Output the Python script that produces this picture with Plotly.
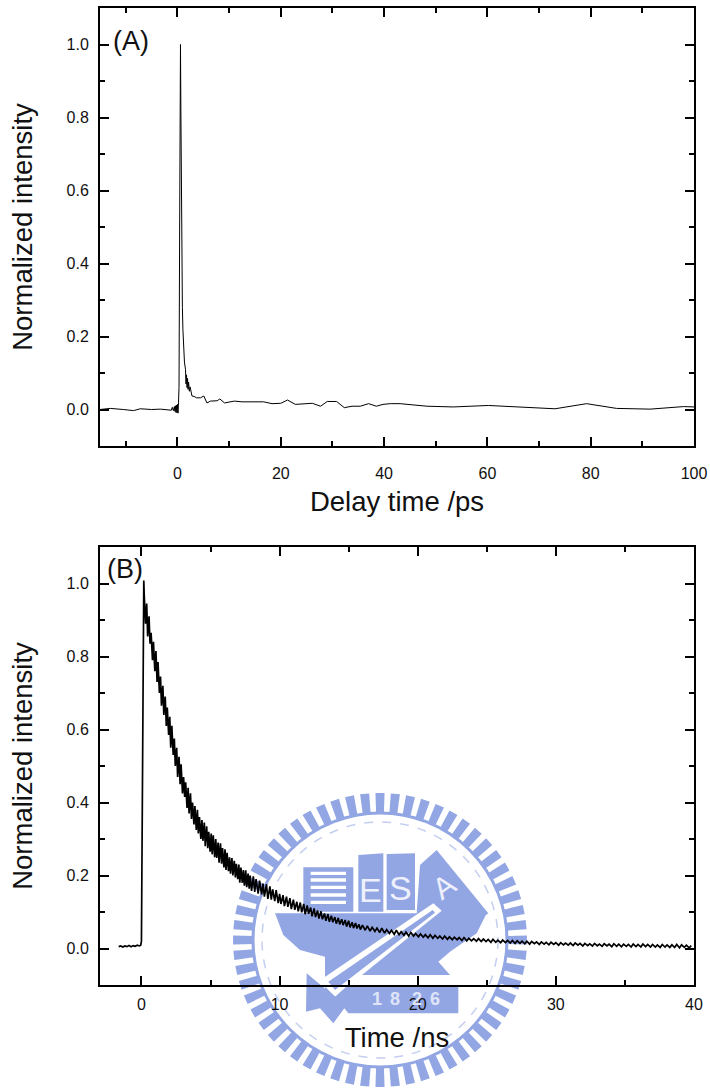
import numpy as np
import plotly.graph_objects as go
from plotly.subplots import make_subplots

W, H = 710, 1088
FONT = "Liberation Sans, Arial, sans-serif"

# Panel A: delay time (ps) and normalized intensity
a_time = [-15, -13, -10.5, -8.5, -7.2, -5, -3.3, -1.2, -1.0, -0.8, -0.6, -0.5, -0.4, -0.3, -0.2, -0.1, 0.0, 0.1, 0.2, 0.3,
          0.42, 0.5, 0.58, 0.66, 0.75, 0.85, 0.95, 1.05, 1.2, 1.35, 1.55, 1.65, 1.75, 1.85, 1.95, 2.05, 2.15, 2.3, 2.45, 2.6,
          2.8, 3.2, 3.7, 4.45, 5.1, 5.7, 6.4, 7.7, 8.2, 9.1, 10, 11, 12.5, 16.7, 18.3, 20, 21.3, 22.8, 26.1, 27.7, 29,
          30.8, 32.3, 33.8, 35.4, 37, 38.5, 39.8, 41.2, 43.1, 48.3, 53.4, 60.2, 66.9, 73.1, 79.2, 85, 91.5, 98, 100]
a_intensity = [0.0, 0.003, 0.0, -0.003, 0.002, 0.0, 0.001, -0.002, 0.006, -0.003, 0.008, -0.005, 0.01, -0.008, 0.012, -0.009, 0.014, -0.01, 0.02, 0.06,
               0.5, 0.92, 1.0, 0.82, 0.58, 0.4, 0.28, 0.22, 0.17, 0.13, 0.11, 0.07, 0.095, 0.06, 0.085, 0.055, 0.075, 0.05, 0.062, 0.045,
               0.037, 0.036, 0.032, 0.032, 0.037, 0.018, 0.023, 0.024, 0.029, 0.018, 0.02, 0.023, 0.021, 0.021, 0.016, 0.017, 0.026, 0.014, 0.017, 0.009, 0.022,
               0.022, 0.005, 0.009, 0.009, 0.016, 0.009, 0.014, 0.016, 0.016, 0.009, 0.007, 0.011, 0.006, 0.002, 0.016, 0.003, 0.001, 0.008, 0.007]

# Panel B: time (ns) and normalized intensity, read as a noisy trace
b_time = [-1.65, -1.5, -1.35, -1.2, -1.05, -0.9, -0.75, -0.6, -0.45, -0.3, -0.15, -0.05, 0.0, 0.03, 0.06, 0.1, 0.14, 0.17, 0.2, 0.24,
          0.3, 0.38, 0.45, 0.55, 0.62, 0.7, 0.8, 0.87, 0.97, 1.05, 1.13, 1.2, 1.3, 1.38, 1.45, 1.55, 1.62, 1.72, 1.8, 1.87, 1.97, 2.05, 2.12, 2.2, 2.3, 2.38, 2.45, 2.55,
          2.62, 2.72, 2.8, 2.87, 2.97, 3.05, 3.13, 3.2, 3.3, 3.38, 3.45, 3.55, 3.62, 3.7, 3.8, 3.87, 3.97, 4.05, 4.12, 4.2, 4.3, 4.38, 4.45, 4.55, 4.62, 4.72, 4.8, 4.87, 4.97, 5.05,
          5.12, 5.2, 5.3, 5.38, 5.45, 5.55, 5.62, 5.72, 5.8, 5.87, 5.97, 6.05, 6.12, 6.2, 6.3, 6.38, 6.45, 6.55, 6.62, 6.72, 6.8, 6.87, 6.97, 7.05, 7.12, 7.2, 7.3, 7.38, 7.45, 7.55, 7.62, 7.72, 7.8, 7.87, 7.97,
          8.1, 8.2, 8.3, 8.45, 8.55, 8.7, 8.8, 8.9, 9.05, 9.15, 9.3, 9.4, 9.5, 9.65, 9.75, 9.9, 10.0, 10.1, 10.25, 10.35, 10.5, 10.6, 10.75, 10.85, 11.0, 11.1, 11.25, 11.35, 11.5, 11.6,
          11.75, 11.85, 12.0, 12.1, 12.25, 12.35, 12.5, 12.6, 12.75, 12.85, 13.0, 13.1, 13.25, 13.35, 13.5, 13.6, 13.75, 13.85, 14.0, 14.1, 14.25, 14.35, 14.5, 14.6, 14.75, 14.85, 15.0, 15.1, 15.25, 15.35, 15.5, 15.6, 15.75, 15.85, 16.0,
          16.2, 16.35, 16.55, 16.7, 16.9, 17.05, 17.25, 17.4, 17.6, 17.75, 17.95, 18.1, 18.3, 18.45, 18.65, 18.8, 19.0, 19.15, 19.35, 19.5, 19.7, 19.85, 20.05, 20.2, 20.4, 20.55, 20.75, 20.9, 21.1, 21.25,
          21.45, 21.6, 21.8, 21.95, 22.15, 22.3, 22.5, 22.65, 22.85, 23.0, 23.2, 23.35, 23.55, 23.7, 23.9, 24.05, 24.25, 24.4, 24.6, 24.75, 24.95, 25.1, 25.3, 25.45, 25.65, 25.8, 26.0, 26.15, 26.35, 26.5,
          26.7, 26.85, 27.05, 27.2, 27.4, 27.55, 27.75, 27.9, 28.1, 28.25, 28.45, 28.6, 28.8, 28.95, 29.15, 29.3, 29.5, 29.65, 29.85, 30.0, 30.2, 30.35, 30.55, 30.7, 30.9, 31.05, 31.25, 31.4, 31.6, 31.75,
          31.95, 32.1, 32.3, 32.45, 32.65, 32.8, 33.0, 33.15, 33.35, 33.5, 33.7, 33.85, 34.05, 34.2, 34.4, 34.55, 34.75, 34.9, 35.1, 35.25, 35.45, 35.6, 35.8, 35.95, 36.15, 36.3, 36.5, 36.65, 36.85, 37.0,
          37.2, 37.35, 37.55, 37.7, 37.9, 38.05, 38.25, 38.4, 38.6, 38.75, 38.95, 39.1, 39.3, 39.45, 39.65, 39.8, 40.0]
b_intensity = [0.005, 0.007, 0.004, 0.007, 0.005, 0.008, 0.005, 0.008, 0.006, 0.009, 0.007, 0.009, 0.02, 0.2, 0.55, 0.85, 0.97, 1.008, 0.97, 0.94,
               0.89, 0.945, 0.855, 0.91, 0.835, 0.865, 0.79, 0.84, 0.76, 0.815, 0.73, 0.785, 0.7, 0.745, 0.665, 0.72, 0.64, 0.69, 0.61, 0.66, 0.585, 0.635, 0.55, 0.61, 0.53, 0.575, 0.5, 0.55,
               0.47, 0.525, 0.45, 0.505, 0.425, 0.47, 0.415, 0.455, 0.385, 0.44, 0.37, 0.425, 0.355, 0.4, 0.34, 0.39, 0.325, 0.38, 0.315, 0.36, 0.3, 0.352, 0.295, 0.345, 0.28, 0.335, 0.275, 0.32, 0.265, 0.315,
               0.258, 0.31, 0.25, 0.3, 0.248, 0.29, 0.235, 0.288, 0.232, 0.275, 0.222, 0.272, 0.215, 0.262, 0.212, 0.25, 0.205, 0.248, 0.2, 0.24, 0.195, 0.232, 0.19, 0.23, 0.18, 0.222, 0.18, 0.215, 0.172, 0.214, 0.168, 0.205, 0.164, 0.2, 0.158,
               0.198, 0.155, 0.19, 0.15, 0.186, 0.148, 0.178, 0.142, 0.176, 0.136, 0.17, 0.134, 0.162, 0.13, 0.16, 0.124, 0.15, 0.122, 0.146, 0.116, 0.142, 0.114, 0.138, 0.108, 0.134, 0.106, 0.128, 0.102, 0.126,
               0.099, 0.122, 0.094, 0.118, 0.095, 0.112, 0.088, 0.11, 0.086, 0.104, 0.082, 0.102, 0.08, 0.096, 0.076, 0.094, 0.073, 0.09, 0.072, 0.086, 0.068, 0.084, 0.066, 0.08, 0.064, 0.078, 0.06, 0.076, 0.058, 0.072, 0.056, 0.07, 0.055, 0.066, 0.052,
               0.064, 0.05, 0.062, 0.048, 0.058, 0.047, 0.056, 0.044, 0.056, 0.042, 0.052, 0.041, 0.05, 0.039, 0.05, 0.038, 0.046, 0.036, 0.045, 0.034, 0.044, 0.034, 0.041, 0.032, 0.04, 0.031, 0.038, 0.029, 0.038, 0.028,
               0.036, 0.028, 0.034, 0.026, 0.034, 0.025, 0.032, 0.024, 0.031, 0.024, 0.03, 0.022, 0.03, 0.021, 0.028, 0.021, 0.027, 0.02, 0.027, 0.019, 0.026, 0.019, 0.025, 0.017, 0.025, 0.017, 0.023, 0.016, 0.023, 0.016,
               0.022, 0.015, 0.022, 0.014, 0.021, 0.014, 0.02, 0.013, 0.02, 0.012, 0.019, 0.013, 0.018, 0.011, 0.018, 0.012, 0.017, 0.01, 0.017, 0.011, 0.016, 0.009, 0.016, 0.01, 0.015, 0.009, 0.015, 0.008, 0.015, 0.009,
               0.014, 0.007, 0.014, 0.008, 0.013, 0.007, 0.014, 0.007, 0.012, 0.006, 0.013, 0.007, 0.012, 0.005, 0.013, 0.006, 0.012, 0.005, 0.012, 0.006, 0.011, 0.004, 0.012, 0.005, 0.011, 0.004, 0.012, 0.005, 0.011, 0.004,
               0.011, 0.004, 0.01, 0.003, 0.011, 0.004, 0.01, 0.003, 0.01, 0.003, 0.011, 0.002, 0.01, 0.003, 0.009, 0.002, 0.008]

y_ticks = [0.0, 0.2, 0.4, 0.6, 0.8, 1.0]
a_x_ticks = [0, 20, 40, 60, 80, 100]
b_x_ticks = [0, 10, 20, 30, 40]

L, R = 100, 694
A_T, A_B = 8, 446
B_T, B_B = 547, 985

fig = make_subplots(rows=2, cols=1)
fig.add_trace(go.Scatter(x=a_time, y=a_intensity, mode="lines", line=dict(color="#000", width=1)), row=1, col=1)
fig.add_trace(go.Scatter(x=b_time, y=b_intensity, mode="lines", line=dict(color="#000", width=1.7)), row=2, col=1)

axis = dict(showgrid=False, zeroline=False, showline=True, linecolor="#000", linewidth=2, mirror="allticks",
            ticks="inside", ticklen=9, tickwidth=1.5, tickcolor="#000", automargin=False,
            tickfont=dict(family=FONT, size=16, color="#111"), title_font=dict(family=FONT, size=27.5, color="#111"))
minor = dict(ticks="inside", ticklen=5, tickwidth=1.5, tickcolor="#000", showgrid=False)

fig.update_layout(
    width=W, height=H, autosize=False, showlegend=False,
    margin=dict(l=0, r=0, t=0, b=0), paper_bgcolor="#fff", plot_bgcolor="rgba(0,0,0,0)",
    xaxis=dict(axis, domain=[L / W, R / W], range=[-15, 100], tickvals=a_x_ticks, ticklabelstandoff=12,
               minor=dict(minor, tickvals=[-10, 10, 30, 50, 70, 90]),
               title=dict(text="Delay time /ps", standoff=11)),
    yaxis=dict(axis, domain=[1 - A_B / H, 1 - A_T / H], range=[-0.1, 1.1], tickvals=y_ticks, tickformat=".1f",
               ticklabelstandoff=6, minor=dict(minor, tickvals=[0.1, 0.3, 0.5, 0.7, 0.9]),
               title=dict(text="Normalized intensity", standoff=26)),
    xaxis2=dict(axis, domain=[L / W, R / W], range=[-3, 40], tickvals=b_x_ticks, ticklabelstandoff=4,
                minor=dict(minor, tickvals=[5, 15, 25, 35]),
                title=dict(text="Time /ns", standoff=16)),
    yaxis2=dict(axis, domain=[1 - B_B / H, 1 - B_T / H], range=[-0.1, 1.1], tickvals=y_ticks, tickformat=".1f",
                ticklabelstandoff=6, minor=dict(minor, tickvals=[0.1, 0.3, 0.5, 0.7, 0.9]),
                title=dict(text="Normalized intensity", standoff=26)),
)

for label, px, py in [("(A)", 111, 41), ("(B)", 105, 569)]:
    fig.add_annotation(text=label, xref="paper", yref="paper", x=px / W, y=1 - py / H, xanchor="left", yanchor="middle",
                       showarrow=False, font=dict(family=FONT, size=27, color="#111"))

# Faint institutional seal behind panel B
BLUE = "#93a6e4"
PALE = "#c4cef0"
CX, CY = 380, 940


def P(x, y):
    return x / W, 1 - y / H


def poly(points, fill=BLUE):
    d = ""
    for i, (x, y) in enumerate(points):
        u, v = P(x, y)
        d += ("M" if i == 0 else "L") + f"{u:.5f},{v:.5f} "
    fig.add_shape(type="path", path=d + "Z", xref="paper", yref="paper", fillcolor=fill, line_width=0, layer="below")


def zp(points, fill=BLUE):
    poly([(220 + x / 3, 770 + y / 3) for x, y in points], fill)


def circle(r, fill=None, color=None, width=0, dash=None):
    x0, y1 = P(CX - r, CY - r)
    x1, y0 = P(CX + r, CY + r)
    fig.add_shape(type="circle", xref="paper", yref="paper", x0=x0, x1=x1, y0=y0, y1=y1, fillcolor=fill,
                  line=dict(color=color, width=width, dash=dash), layer="below")


n_teeth = 60
for ang in np.arange(n_teeth) * 2 * np.pi / n_teeth:
    a, b = ang - 0.031, ang + 0.031
    poly([(CX + 126 * np.cos(a), CY + 126 * np.sin(a)), (CX + 147 * np.cos(a), CY + 147 * np.sin(a)),
          (CX + 147 * np.cos(b), CY + 147 * np.sin(b)), (CX + 126 * np.cos(b), CY + 126 * np.sin(b))])
circle(127, color=BLUE, width=3)
circle(118, color=PALE, width=1.5, dash="dash")

# books
zp([(250, 292), (400, 292), (400, 425), (250, 425)])
for yy in [305, 325, 347, 370, 392]:
    zp([(272, yy), (378, yy), (378, yy + 10), (272, yy + 10)], "#fff")
zp([(415, 255), (490, 250), (490, 425), (415, 425)])
zp([(500, 252), (585, 250), (585, 420), (500, 420)])
zp([(600, 285), (650, 240), (805, 430), (660, 535), (590, 430)])
# anvil
zp([(165, 430), (800, 430), (770, 490), (690, 545), (655, 575), (690, 615), (415, 615), (315, 700), (315, 560), (240, 540), (190, 495)])
# pen, outlined in white
zp([(298, 632), (640, 400), (665, 422), (345, 680)], "#fff")
zp([(325, 635), (638, 420), (645, 428), (345, 660)])
zp([(260, 610), (320, 660), (380, 705), (340, 760), (300, 715), (258, 725)])
# ribbon
zp([(385, 645), (715, 645), (715, 730), (385, 730), (345, 680)])
for txt, zx in [("1", 470), ("8", 525), ("2", 590), ("6", 645)]:
    u, v = P(220 + zx / 3, 770 + 688 / 3)
    fig.add_annotation(text=f"<b>{txt}</b>", xref="paper", yref="paper", x=u, y=v, xanchor="center", yanchor="middle",
                       showarrow=False, font=dict(family=FONT, size=18, color="#dfe5f9"))
for txt, zx, zy, ang, size in [("E", 450, 360, 0, 34), ("S", 540, 355, 0, 34), ("A", 672, 350, -35, 30)]:
    u, v = P(220 + zx / 3, 770 + zy / 3)
    fig.add_annotation(text=txt, xref="paper", yref="paper", x=u, y=v, xanchor="center", yanchor="middle",
                       showarrow=False, textangle=ang, font=dict(family=FONT, size=size, color="#eef1fc"))

fig.write_html("out.html", config=dict(displayModeBar=False),
               post_script="document.body.style.margin='0';document.documentElement.style.overflow='hidden';")
